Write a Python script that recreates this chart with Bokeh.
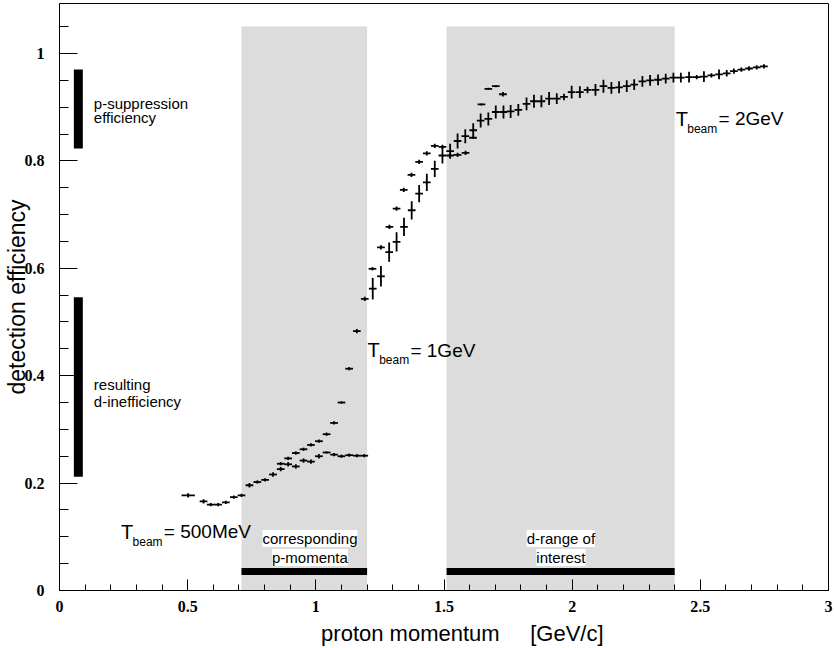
import numpy as np
from bokeh.plotting import figure
from bokeh.models import Range1d, SingleIntervalTicker, Label, CustomJSTickFormatter
from bokeh.embed import file_html
from bokeh.resources import INLINE

# ---- data: T_beam = 500 MeV ----
xa = [0.502, 0.562, 0.590, 0.619, 0.649, 0.680, 0.710, 0.741, 0.772, 0.802, 0.833, 0.863,
      0.892, 0.922, 0.952, 0.981, 1.012, 1.042, 1.071, 1.100, 1.130, 1.160, 1.189]
ya = [0.177, 0.166, 0.160, 0.160, 0.164, 0.174, 0.177, 0.196, 0.202, 0.206, 0.216, 0.226,
      0.235, 0.231, 0.242, 0.240, 0.250, 0.257, 0.253, 0.250, 0.252, 0.251, 0.251]
xerr_a = [0.026, 0.015, 0.015, 0.015, 0.015, 0.015, 0.015, 0.015, 0.015, 0.015, 0.015, 0.015,
          0.015, 0.015, 0.015, 0.015, 0.015, 0.015, 0.015, 0.015, 0.015, 0.015, 0.015]
yerr_a = [0.004, 0.004, 0.003, 0.003, 0.003, 0.003, 0.003, 0.004, 0.003, 0.003, 0.004, 0.004,
          0.004, 0.004, 0.004, 0.004, 0.004, 0.002, 0.003, 0.003, 0.003, 0.003, 0.003]

# ---- data: T_beam = 1 GeV ----
xb = [0.863, 0.892, 0.922, 0.952, 0.981, 1.012, 1.042, 1.071, 1.100, 1.130, 1.160, 1.191,
      1.221, 1.254, 1.287, 1.315, 1.343, 1.373, 1.403, 1.433, 1.464, 1.494, 1.524, 1.553,
      1.584, 1.613, 1.646, 1.673, 1.702, 1.730]
yb = [0.236, 0.246, 0.256, 0.263, 0.271, 0.278, 0.291, 0.312, 0.350, 0.413, 0.483, 0.543,
      0.599, 0.639, 0.677, 0.711, 0.746, 0.774, 0.798, 0.814, 0.828, 0.826, 0.810, 0.811,
      0.815, 0.843, 0.905, 0.934, 0.939, 0.924]
xerr_b = [0.015] * len(xb)
yerr_b = [0.003, 0.003, 0.003, 0.003, 0.003, 0.003, 0.003, 0.003, 0.002, 0.003, 0.004, 0.004,
          0.003, 0.004, 0.004, 0.004, 0.004, 0.004, 0.004, 0.004, 0.004, 0.004, 0.004, 0.004,
          0.004, 0.002, 0.002, 0.002, 0.002, 0.004]

# ---- data: T_beam = 2 GeV ----
xc = [1.222, 1.254, 1.286, 1.315, 1.344, 1.374, 1.403, 1.433, 1.464, 1.494, 1.524, 1.553,
      1.583, 1.614, 1.643, 1.673, 1.702, 1.732, 1.760, 1.790, 1.822, 1.851, 1.880, 1.910,
      1.940, 1.968, 1.998, 2.030, 2.060, 2.091, 2.122, 2.153, 2.183, 2.213, 2.242, 2.274,
      2.304, 2.335, 2.365, 2.395, 2.424, 2.456, 2.486, 2.514, 2.543, 2.573, 2.603, 2.631,
      2.660, 2.690, 2.720, 2.748]
yc = [0.562, 0.585, 0.630, 0.649, 0.677, 0.708, 0.739, 0.760, 0.785, 0.810, 0.818, 0.837,
      0.846, 0.857, 0.875, 0.878, 0.891, 0.891, 0.892, 0.895, 0.906, 0.911, 0.911, 0.916,
      0.916, 0.919, 0.928, 0.928, 0.932, 0.932, 0.939, 0.936, 0.937, 0.939, 0.942, 0.948,
      0.950, 0.951, 0.953, 0.955, 0.955, 0.956, 0.956, 0.957, 0.959, 0.961, 0.963, 0.967,
      0.970, 0.972, 0.974, 0.976]
xerr_c = [0.015] * len(xc)
yerr_c = [0.020, 0.019, 0.018, 0.018, 0.017, 0.017, 0.016, 0.016, 0.015, 0.015,
          0.014, 0.014, 0.013, 0.013, 0.013, 0.012, 0.012, 0.012, 0.012, 0.011,
          0.012, 0.012, 0.011, 0.012, 0.010, 0.006, 0.012, 0.011, 0.006, 0.011,
          0.012, 0.011, 0.011, 0.011, 0.010, 0.010, 0.010, 0.010, 0.009, 0.009,
          0.009, 0.010, 0.004, 0.010, 0.004, 0.009, 0.006, 0.005, 0.004, 0.004,
          0.004, 0.004]

# ---- shaded momentum ranges and bars ----
band_left = [0.71, 1.51]
band_right = [1.20, 2.40]
band_top = 1.05
hbar_bottom, hbar_top = 0.029, 0.042
vbar_left, vbar_right = 0.056, 0.091
vbar_bottom = [0.823, 0.212]
vbar_top = [0.970, 0.546]

FONT = "Liberation Sans"
NB = "\u00a0"

p = figure(width=834, height=648, x_range=Range1d(0, 3), y_range=Range1d(0, 1.093),
           output_backend="svg", toolbar_location=None,
           min_border_left=59, min_border_right=6, min_border_top=3, min_border_bottom=58)
p.xgrid.visible = False
p.ygrid.visible = False
p.outline_line_color = "black"
p.outline_line_width = 1
p.background_fill_color = "white"
p.border_fill_color = "white"

# shaded bands
p.quad(left=band_left, right=band_right, bottom=[0, 0], top=[band_top, band_top],
       fill_color="#dcdcdc", line_color=None)
# horizontal black bars
p.quad(left=band_left, right=band_right, bottom=[hbar_bottom] * 2, top=[hbar_top] * 2,
       fill_color="black", line_color=None)
# vertical black bars
p.quad(left=[vbar_left] * 2, right=[vbar_right] * 2, bottom=vbar_bottom, top=vbar_top,
       fill_color="black", line_color=None)

def errbars(x, y, xe, ye):
    x = np.array(x); y = np.array(y); xe = np.array(xe); ye = np.array(ye)
    p.segment(x0=x - xe, x1=x + xe, y0=y, y1=y, line_color="black", line_width=1.8)
    p.segment(x0=x, x1=x, y0=y - ye, y1=y + ye, line_color="black", line_width=1.8)

errbars(xa, ya, xerr_a, yerr_a)
errbars(xb, yb, xerr_b, yerr_b)
errbars(xc, yc, xerr_c, yerr_c)

# axes
fmt = CustomJSTickFormatter(code="return Number(tick.toFixed(2)).toString();")
p.xaxis.ticker = SingleIntervalTicker(interval=0.5, num_minor_ticks=5)
p.yaxis.ticker = SingleIntervalTicker(interval=0.2, num_minor_ticks=4)
for ax in (p.xaxis[0], p.yaxis[0]):
    ax.formatter = fmt
    ax.major_label_text_font = "Liberation Serif"
    ax.major_label_text_font_style = "bold"
    ax.major_label_text_font_size = "16px"
    ax.major_label_text_color = "black"
    ax.axis_line_color = "black"
    ax.major_tick_line_color = "black"
    ax.minor_tick_line_color = "black"
    ax.major_tick_out = 0
    ax.minor_tick_out = 0
    ax.axis_label_text_font = FONT
    ax.axis_label_text_font_style = "normal"
    ax.axis_label_text_color = "black"
p.xaxis.axis_label_text_font_size = "22px"
p.yaxis.axis_label_text_font_size = "23px"
p.xaxis.major_tick_in = 11
p.xaxis.minor_tick_in = 6
p.xaxis.major_label_standoff = 10
p.xaxis.axis_label = NB * 6 + "proton momentum" + NB * 5 + "[GeV/c]"
p.xaxis.axis_label_standoff = 6
p.yaxis.major_tick_in = 18
p.yaxis.minor_tick_in = 9
p.yaxis.major_label_standoff = 15
p.yaxis.axis_label = "detection efficiency"
p.yaxis.axis_label_standoff = -8

def lab(x, y, text, size="15px", align="left", baseline="middle", bg=None):
    kw = dict(x=x, y=y, text=text, text_font=FONT, text_font_size=size,
              text_align=align, text_baseline=baseline, text_color="black")
    if bg:
        kw.update(background_fill_color=bg, background_fill_alpha=1.0)
    p.add_layout(Label(**kw))

# annotations
lab(0.134, 0.907, "p-suppression")
lab(0.134, 0.881, "efficiency")
lab(0.134, 0.384, "resulting")
lab(0.134, 0.352, "d-inefficiency")
lab(0.977, 0.0968, "corresponding", align="center", bg="white")
lab(0.977, 0.0615, "p-momenta", align="center", bg="white")
lab(1.956, 0.0968, "d-range of", align="center", bg="white")
lab(1.956, 0.0615, "interest", align="center", bg="white")

def tbeam(xT, yT, rest):
    lab(xT, yT, "T", size="20px", baseline="alphabetic")
    lab(xT + 0.045, yT - 0.018, "beam", size="12px", baseline="alphabetic")
    lab(xT + 0.167, yT, rest, size="19px", baseline="alphabetic")

tbeam(0.240, 0.109, "= 500MeV")
tbeam(1.202, 0.447, "= 1GeV")
tbeam(2.404, 0.878, "= 2GeV")

open("out.html", "w").write(file_html(p, INLINE))
